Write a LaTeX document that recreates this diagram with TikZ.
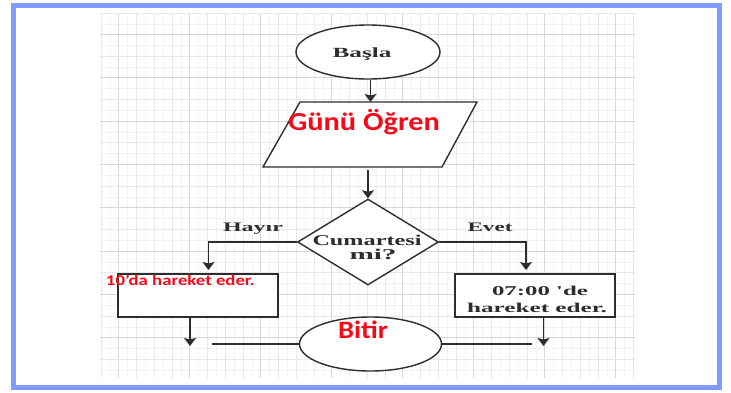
\documentclass[tikz,border=0pt]{standalone}
\usepackage{fontspec}
\usepackage{graphicx}
\setmainfont{Liberation Serif}
\newfontfamily\calib{Carlito}
\usetikzlibrary{shapes.geometric,arrows.meta}
\definecolor{framecol}{RGB}{128,155,255}
\definecolor{gridmaj}{RGB}{215,215,215}
\definecolor{gridmin}{RGB}{232,232,232}
\definecolor{gridsub}{RGB}{243,243,243}
\definecolor{inkcol}{RGB}{45,45,45}
\definecolor{redtxt}{RGB}{245,10,25}
\newcommand{\fittext}[3]{\resizebox{#1pt}{\height}{\fontsize{#2pt}{#2pt}\selectfont #3}}
\tikzset{
  shapeline/.style={draw=inkcol, line width=1.4pt, fill=white},
  conn/.style={draw=inkcol, line width=1.4pt},
  arr/.style={conn, -{Stealth[length=8pt,width=12pt,inset=1.5pt]}},
  lbl/.style={anchor=base, inner sep=0pt, text=inkcol, font=\bfseries},
  redlbl/.style={anchor=base, inner sep=0pt, text=redtxt},
}
\begin{document}
\begin{tikzpicture}[x=1pt,y=-1pt]
\useasboundingbox (0,0) rectangle (731,392);
\fill[white] (0,0) rectangle (731,392);
% grid
\foreach \i in {0,...,29} {
  \draw[gridsub, line width=0.6pt] ({101+17.75*\i+8.9},13) -- ({101+17.75*\i+8.9},378);
}
\foreach \j in {0,...,16} {
  \draw[gridsub, line width=0.6pt] (100,{13+21.65*\j+10.8}) -- (636,{13+21.65*\j+10.8});
}
\foreach \i in {0,...,30} {
  \pgfmathtruncatemacro{\m}{mod(\i-1,4)==0 ? 1 : 0}
  \ifnum\m=1
    \draw[gridmaj, line width=1pt] ({101+17.75*\i},13) -- ({101+17.75*\i},378);
  \else
    \draw[gridmin, line width=0.9pt] ({101+17.75*\i},13) -- ({101+17.75*\i},378);
  \fi
}
\foreach \j in {0,...,16} {
  \pgfmathtruncatemacro{\m}{mod(\j,2)==1 ? 1 : 0}
  \ifnum\m=1
    \draw[gridmaj, line width=1pt] (100,{13+21.65*\j}) -- (636,{13+21.65*\j});
  \else
    \draw[gridmin, line width=0.9pt] (100,{13+21.65*\j}) -- (636,{13+21.65*\j});
  \fi
}
% frame
\draw[framecol, line width=5pt] (13,5) rectangle (719.5,387.5);

% shapes
\node[shapeline, ellipse, minimum width=144pt, minimum height=54pt, inner sep=0pt] (basla) at (368,52) {};
\draw[shapeline] (300,102) coordinate (pTL) -- (477,102) coordinate (pTR) -- (442,167) coordinate (pBR) -- (263,167) coordinate (pBL) -- cycle;
\coordinate (pTop) at (370.5,102);
\coordinate (pBot) at (368,170);
\node[shapeline, diamond, minimum width=141pt, minimum height=86pt, inner sep=0pt] (dia) at (368,242) {};
\node[shapeline, rectangle, minimum width=160pt, minimum height=43pt, inner sep=0pt] (lbox) at (198,295.5) {};
\node[shapeline, rectangle, minimum width=160pt, minimum height=43pt, inner sep=0pt] (rbox) at (535,295.5) {};
\node[shapeline, ellipse, minimum width=142pt, minimum height=54pt, inner sep=0pt] (bitir) at (370.5,344) {};

% connectors
\draw[arr] (basla.south -| pTop) -- (pTop);
\draw[arr] (dia.north |- pBot) -- (dia.north);
\coordinate (lTip) at (208.5,270);
\coordinate (rTip) at (526,270);
\draw[arr] (dia.west) -| (lTip);
\draw[arr] (dia.east) -| (rTip);
\coordinate (lEnd) at (190,346);
\coordinate (rEnd) at (543.5,346);
\draw[arr] (lbox.south -| lEnd) -- (lEnd);
\draw[arr] (rbox.south -| rEnd) -- (rEnd);
\coordinate (lLine) at (212,344);
\coordinate (rLine) at (532,344);
\draw[conn] (lLine) -- (bitir.west);
\draw[conn] (bitir.east) -- (rLine);

% texts
\node[lbl] (tbasla) at (362,57) {\fittext{59}{14}{Başla}};
\node[redlbl] (togren) at (364,130) {\fittext{152}{26}{\calib\bfseries Günü Öğren}};
\node[lbl] (tcum1) at (367,245) {\fittext{109}{15}{Cumartesi}};
\node[lbl] (tcum2) at (373,259.5) {\fittext{47}{15}{mi?}};
\node[lbl] (thayir) at (253,231.5) {\fittext{60}{13}{Hayır}};
\node[lbl] (tevet) at (490,231.5) {\fittext{45}{13}{Evet}};
\node[redlbl] (tleft) at (180.5,285) {\fittext{149}{15}{\calib\bfseries 10’da hareket eder.}};
\node[lbl] (tright1) at (540,295.5) {\fittext{96}{13.5}{07:00 \textquotesingle de}};
\node[lbl] (tright2) at (537,312) {\fittext{140}{13.5}{hareket eder.}};
\node[redlbl] (tbitir) at (363,338) {\fittext{50}{25}{\calib\bfseries Bitir}};
\end{tikzpicture}
\end{document}
